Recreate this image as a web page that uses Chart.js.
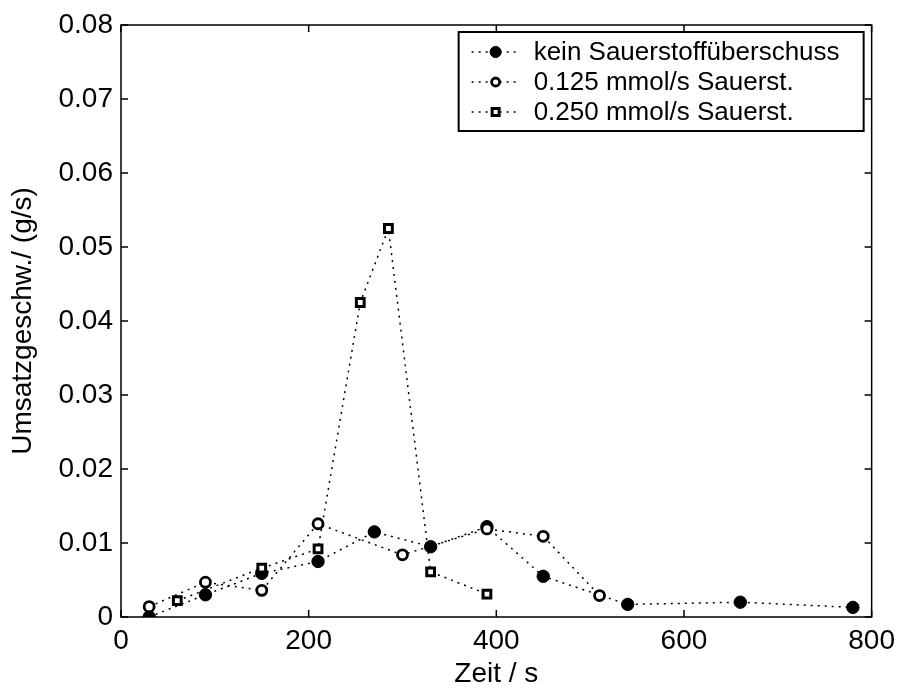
<!DOCTYPE html>
<html>
<head>
<meta charset="utf-8">
<title>Umsatzgeschwindigkeit</title>
<script src="https://cdn.jsdelivr.net/npm/chart.js"></script>
<style>
    html, body { margin: 0; padding: 0; background: #fff; }
    #wrap { width: 902px; height: 689px; }
</style>
</head>
<body>
<div id="wrap"><canvas id="rateChart" width="902" height="689"></canvas></div>
<script>
// Messwerte: Zeit in s, Umsatzgeschwindigkeit in g/s
const zeitOhne = [30, 90, 150, 210, 270, 330, 390, 450, 540, 660, 780];
const rateOhne = [0.0000, 0.0030, 0.0059, 0.0075, 0.0115, 0.0095, 0.0122, 0.0055, 0.0017, 0.0020, 0.0013];

const zeit125 = [30, 90, 150, 210, 300, 390, 450, 510];
const rate125 = [0.0014, 0.0047, 0.0036, 0.0126, 0.0084, 0.0119, 0.0109, 0.0029];

const zeit250 = [60, 150, 210, 255, 285, 330, 390];
const rate250 = [0.0022, 0.0066, 0.0092, 0.0425, 0.0525, 0.0061, 0.0031];

const seriesNames = ['kein Sauerstoffüberschuss', '0.125 mmol/s Sauerst.', '0.250 mmol/s Sauerst.'];

const xTicks = [0, 200, 400, 600, 800];
const xTickLabels = ['0', '200', '400', '600', '800'];
const yTicks = [0, 0.01, 0.02, 0.03, 0.04, 0.05, 0.06, 0.07, 0.08];
const yTickLabels = ['0', '0.01', '0.02', '0.03', '0.04', '0.05', '0.06', '0.07', '0.08'];

const FONT = '"Liberation Sans", Arial, Helvetica, sans-serif';
const DOTS = [2, 5];

function toPoints(xs, ys) {
    return xs.map(function(x, i) { return { x: x, y: ys[i] }; });
}

function lineStyle(extra) {
    return Object.assign({
        showLine: true,
        borderColor: '#000',
        borderWidth: 1.5,
        borderDash: DOTS,
        tension: 0,
        pointBorderColor: '#000',
        pointHoverRadius: 0
    }, extra);
}

// Rahmen mit nach innen zeigenden Teilstrichen auf allen vier Seiten
const framePlugin = {
    id: 'frame',
    afterDatasetsDraw(chart) {
        const ctx = chart.ctx;
        const a = chart.chartArea;
        const xs = chart.scales.x;
        const ys = chart.scales.y;
        const len = 7;
        ctx.save();
        ctx.strokeStyle = '#000';
        ctx.lineWidth = 1.5;
        ctx.setLineDash([]);
        ctx.beginPath();
        xs.ticks.forEach(function(t) {
            const px = xs.getPixelForValue(t.value);
            ctx.moveTo(px, a.bottom); ctx.lineTo(px, a.bottom - len);
            ctx.moveTo(px, a.top); ctx.lineTo(px, a.top + len);
        });
        ys.ticks.forEach(function(t) {
            const py = ys.getPixelForValue(t.value);
            ctx.moveTo(a.left, py); ctx.lineTo(a.left + len, py);
            ctx.moveTo(a.right, py); ctx.lineTo(a.right - len, py);
        });
        ctx.stroke();
        ctx.strokeRect(a.left, a.top, a.right - a.left, a.bottom - a.top);
        ctx.restore();
    }
};

function drawMarker(ctx, ds, x, y, scale) {
    const r = ds.pointRadius * scale;
    const opts = { pointStyle: ds.pointStyle, radius: r, rotation: 0, borderWidth: ds.pointBorderWidth };
    ctx.fillStyle = ds.pointBackgroundColor;
    ctx.strokeStyle = ds.pointBorderColor;
    ctx.lineWidth = ds.pointBorderWidth;
    if (Chart.helpers && Chart.helpers.drawPoint) {
        Chart.helpers.drawPoint(ctx, opts, x, y);
        return;
    }
    ctx.beginPath();
    if (ds.pointStyle === 'rect') {
        const s = r * Math.SQRT1_2;
        ctx.rect(x - s, y - s, 2 * s, 2 * s);
    } else {
        ctx.arc(x, y, r, 0, Math.PI * 2);
    }
    ctx.fill();
    ctx.stroke();
}

// Legende als Kasten oben rechts im Diagramm
const boxLegendPlugin = {
    id: 'boxLegend',
    afterDraw(chart) {
        const ctx = chart.ctx;
        const a = chart.chartArea;
        const right = a.right - 8;
        const left = right - 405;
        const top = a.top + 7;
        const height = 99;
        const rowGap = 30;

        ctx.save();
        ctx.fillStyle = '#fff';
        ctx.fillRect(left, top, right - left, height);
        ctx.strokeStyle = '#000';
        ctx.lineWidth = 2;
        ctx.setLineDash([]);
        ctx.strokeRect(left, top, right - left, height);

        chart.data.datasets.forEach(function(ds, i) {
            const cy = top + 20 + i * rowGap;
            const mx = left + 37;
            ctx.strokeStyle = '#000';
            ctx.lineWidth = ds.borderWidth;
            ctx.setLineDash(ds.borderDash);
            ctx.beginPath();
            ctx.moveTo(left + 13, cy);
            ctx.lineTo(left + 57, cy);
            ctx.stroke();
            ctx.setLineDash([]);
            drawMarker(ctx, ds, mx, cy, ds.pointStyle === 'circle' && ds.pointBorderWidth > 2 ? 0.8 : 0.9);

            ctx.fillStyle = '#000';
            ctx.font = '26px ' + FONT;
            ctx.textBaseline = 'middle';
            ctx.textAlign = 'left';
            ctx.fillText(seriesNames[i], left + 75, cy + 1);
        });
        ctx.restore();
    }
};

const ctx = document.getElementById('rateChart').getContext('2d');

const rateChart = new Chart(ctx, {
    type: 'scatter',
    data: {
        datasets: [
            lineStyle({
                label: seriesNames[0],
                data: toPoints(zeitOhne, rateOhne),
                pointStyle: 'circle',
                pointRadius: 6.2,
                pointBorderWidth: 1,
                pointBackgroundColor: '#000',
                order: 3
            }),
            lineStyle({
                label: seriesNames[1],
                data: toPoints(zeit125, rate125),
                pointStyle: 'circle',
                pointRadius: 5,
                pointBorderWidth: 2.8,
                pointBackgroundColor: '#fff',
                order: 2
            }),
            lineStyle({
                label: seriesNames[2],
                data: toPoints(zeit250, rate250),
                pointStyle: 'rect',
                pointRadius: 5.5,
                pointBorderWidth: 3,
                pointBackgroundColor: '#fff',
                order: 1
            })
        ]
    },
    options: {
        responsive: false,
        animation: false,
        events: [],
        layout: {
            padding: { left: 0, top: 25, right: 29, bottom: 0 }
        },
        plugins: {
            legend: { display: false },
            tooltip: { enabled: false }
        },
        scales: {
            x: {
                type: 'linear',
                min: 0,
                max: 800,
                grid: { display: false, drawTicks: false },
                border: { display: false },
                afterBuildTicks: function(scale) {
                    scale.ticks = xTicks.map(function(v) { return { value: v }; });
                },
                afterFit: function(scale) {
                    scale.height = 72;
                },
                ticks: {
                    color: '#000',
                    padding: 7,
                    maxRotation: 0,
                    font: { family: FONT, size: 28 },
                    callback: function(value, index) { return xTickLabels[index]; }
                },
                title: {
                    display: true,
                    text: 'Zeit / s',
                    color: '#000',
                    font: { family: FONT, size: 28, lineHeight: 1 },
                    padding: { top: 0, bottom: 1 }
                }
            },
            y: {
                type: 'linear',
                min: 0,
                max: 0.08,
                grid: { display: false, drawTicks: false },
                border: { display: false },
                afterBuildTicks: function(scale) {
                    scale.ticks = yTicks.map(function(v) { return { value: v }; });
                },
                afterFit: function(scale) {
                    scale.width = 121;
                },
                ticks: {
                    color: '#000',
                    padding: 8,
                    font: { family: FONT, size: 28 },
                    callback: function(value, index) { return yTickLabels[index]; }
                },
                title: {
                    display: true,
                    text: 'Umsatzgeschw./ (g/s)',
                    color: '#000',
                    font: { family: FONT, size: 28, lineHeight: 1 },
                    padding: { top: 9, bottom: 0 }
                }
            }
        }
    },
    plugins: [framePlugin, boxLegendPlugin]
});
</script>
</body>
</html>
